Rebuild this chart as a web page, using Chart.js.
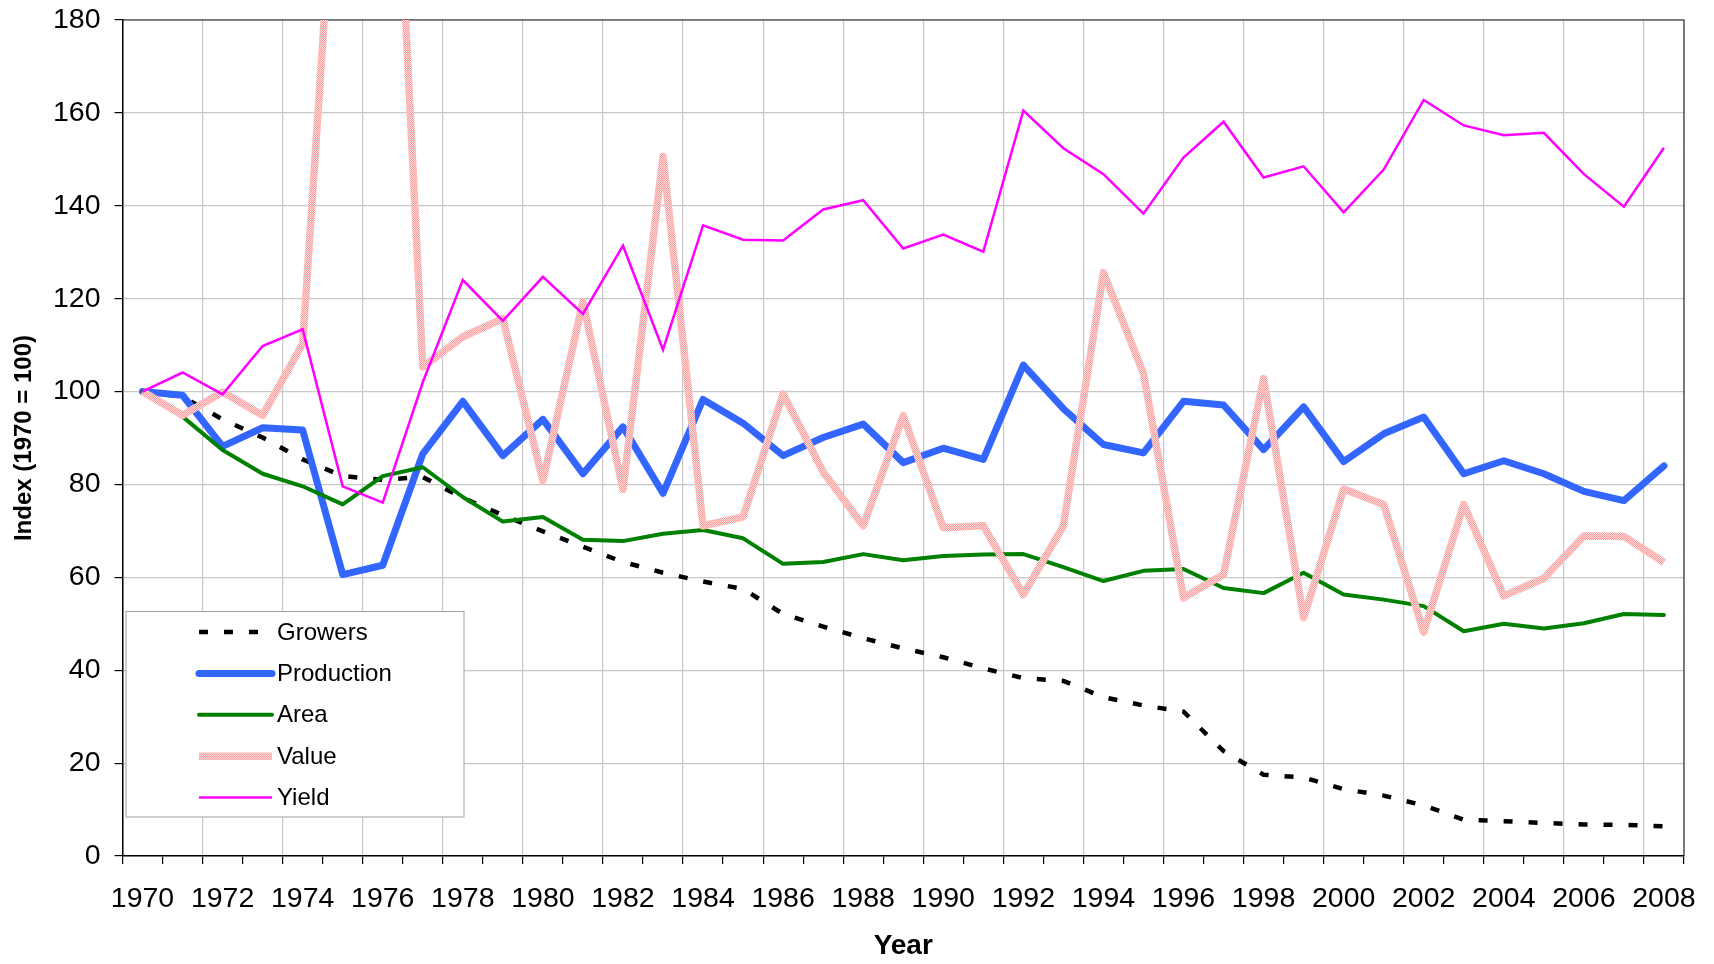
<!DOCTYPE html>
<html>
<head>
<meta charset="utf-8">
<title>Index (1970 = 100)</title>
<script src="https://cdn.jsdelivr.net/npm/chart.js@4.4.0/dist/chart.umd.min.js"></script>
<style>
  html, body { margin: 0; padding: 0; background: #fff; }
  canvas { display: block; }
</style>
</head>
<body>
<canvas id="chart" width="1714" height="964"></canvas>
<script>
// years on the category axis
const years = [];
for (let y = 1970; y <= 2008; y++) years.push(String(y));

// index values (1970 = 100)
const growers = [100, 98.9, 94, 90.1, 85.4, 81.8, 81, 81.6, 77.1, 73.4, 69.9, 66.6, 63.3, 61, 59.1, 57.5,
  52.1, 49.4, 46.9, 44.7, 42.8, 40.4, 38.3, 37.7, 34.2, 32.4, 31.1, 22.6, 17.5, 16.9, 14.4, 13, 10.9,
  7.8, 7.5, 7.1, 6.8, 6.7, 6.4];
const production = [100, 99.2, 88.2, 92.2, 91.7, 60.6, 62.6, 86.6, 97.9, 86.2, 94, 82.3, 92.4, 78.1, 98.3,
  93.2, 86.2, 90.1, 93, 84.7, 87.8, 85.4, 105.7, 96.3, 88.6, 86.8, 97.9, 97.1, 87.5, 96.7, 84.9, 90.9,
  94.5, 82.3, 85.1, 82.3, 78.5, 76.5, 84];
const area = [100, 94.6, 87.4, 82.3, 79.6, 75.7, 81.8, 83.7, 77.3, 72, 73, 68.1, 67.8, 69.4, 70.2, 68.4,
  62.9, 63.3, 65, 63.7, 64.6, 64.9, 65, 62.2, 59.2, 61.4, 61.8, 57.7, 56.6, 61, 56.3, 55.2, 53.8, 48.4,
  50, 49, 50.1, 52.1, 51.9];
const value = [100, 94.9, 99.9, 94.9, 110.3, 240, 280, 105.3, 111.8, 115.7, 80.8, 119.3, 78.9, 150.6,
  71.1, 73, 99.5, 82.7, 71.1, 94.8, 70.7, 71.1, 56.3, 71.1, 125.6, 103.9, 55.6, 60.6, 102.8, 51.3, 79,
  75.7, 48.2, 75.7, 56, 59.8, 68.9, 68.8, 63.2];
const yieldIdx = [100, 104.1, 99.4, 109.8, 113.4, 79.6, 76.1, 102, 124, 115.2, 124.7, 116.7, 131.4, 109,
  135.8, 132.7, 132.5, 139.2, 141.2, 130.8, 133.8, 130.1, 160.5, 152.4, 146.8, 138.3, 150.4, 158.1,
  146.1, 148.5, 138.6, 147.8, 162.8, 157.3, 155.2, 155.7, 146.8, 139.8, 152.5];

const yTicks = { min: 0, max: 180, step: 20 };

// checkered pink fill for the Value line
function pinkPattern() {
  const c = document.createElement('canvas');
  c.width = 2; c.height = 2;
  const g = c.getContext('2d');
  g.fillStyle = '#ffdcdc'; g.fillRect(0, 0, 2, 2);
  g.fillStyle = '#ff9a9a'; g.fillRect(0, 0, 1, 1); g.fillRect(1, 1, 1, 1);
  return g.createPattern(c, 'repeat');
}

Chart.defaults.font.family = "'Liberation Sans', Arial, sans-serif";
Chart.defaults.color = '#000';

const gridGray = '#c8c8c8';

// legend drawn as a box inside the plot, lower left
const boxLegend = {
  id: 'boxLegend',
  afterDatasetsDraw(chart) {
    const { ctx, chartArea } = chart;
    const bx = chartArea.left + 3.5, by = chartArea.bottom - 244.5;
    const bw = 338, bh = 205.5;
    ctx.save();
    ctx.fillStyle = '#fff';
    ctx.fillRect(bx, by, bw, bh);
    ctx.strokeStyle = '#a0a0a0';
    ctx.lineWidth = 1;
    ctx.strokeRect(bx, by, bw, bh);
    ctx.font = "24px 'Liberation Sans', Arial, sans-serif";
    ctx.textBaseline = 'middle';
    ctx.textAlign = 'left';
    chart.data.datasets.forEach((ds, i) => {
      const cy = by + 20.5 + i * 41.4;
      ctx.beginPath();
      ctx.strokeStyle = ds.borderColor;
      ctx.lineWidth = ds.borderWidth;
      ctx.lineCap = ds.borderCapStyle || 'butt';
      ctx.setLineDash(ds.borderDash || []);
      ctx.moveTo(bx + 73, cy);
      ctx.lineTo(bx + 146, cy);
      ctx.stroke();
      ctx.setLineDash([]);
      ctx.fillStyle = '#000';
      ctx.fillText(ds.label, bx + 151, cy + 1);
    });
    ctx.restore();
  }
};

// top and right frame lines of the plot area
const frame = {
  id: 'frame',
  beforeDatasetsDraw(chart) {
    const { ctx, chartArea: a } = chart;
    ctx.save();
    ctx.strokeStyle = '#222';
    ctx.lineWidth = 1.2;
    ctx.beginPath();
    ctx.moveTo(a.left, a.top);
    ctx.lineTo(a.right, a.top);
    ctx.lineTo(a.right, a.bottom);
    ctx.stroke();
    ctx.restore();
  }
};

new Chart(document.getElementById('chart'), {
  type: 'line',
  data: {
    labels: years,
    datasets: [
      { label: 'Growers', data: growers, borderColor: '#000', borderWidth: 4.5, borderDash: [9, 16],
        borderCapStyle: 'butt', order: 5 },
      { label: 'Production', data: production, borderColor: '#3366ff', borderWidth: 7,
        borderCapStyle: 'round', borderJoinStyle: 'round', order: 4 },
      { label: 'Area', data: area, borderColor: '#008000', borderWidth: 4,
        borderCapStyle: 'round', borderJoinStyle: 'round', order: 3 },
      { label: 'Value', data: value, borderColor: pinkPattern(), borderWidth: 7.5,
        borderJoinStyle: 'round', clip: 0, order: 2 },
      { label: 'Yield', data: yieldIdx, borderColor: '#ff00ff', borderWidth: 2.5, order: 1 }
    ]
  },
  options: {
    responsive: false,
    animation: false,
    layout: { padding: { left: 0, right: 27.5, top: 20, bottom: 0 } },
    elements: { point: { radius: 0, hoverRadius: 0 }, line: { tension: 0 } },
    plugins: { legend: { display: false }, tooltip: { enabled: false } },
    events: [],
    scales: {
      x: {
        type: 'category',
        offset: true,
        afterFit(scale) { scale.height = 108; },
        grid: {
          offset: true,
          color: ctx => (ctx.index !== undefined && ctx.index % 2 === 0 ? gridGray : 'transparent'),
          lineWidth: 1.2,
          tickColor: '#000',
          tickLength: 8
        },
        border: { color: '#000', width: 1.5 },
        ticks: {
          autoSkip: false,
          maxRotation: 0,
          padding: 18,
          font: { size: 28.5 },
          callback(v, i) { return i % 2 === 0 ? this.getLabelForValue(v) : ''; }
        },
        title: { display: true, text: 'Year', font: { size: 28, weight: 'bold' }, padding: { top: 0, bottom: 1 } }
      },
      y: {
        min: yTicks.min,
        max: yTicks.max,
        afterFit(scale) {
          scale.width = 122.5;
          scale.paddingTop = 10;
          scale.paddingBottom = 10;
        },
        grid: { color: gridGray, lineWidth: 1.2, tickColor: '#000', tickLength: 8 },
        border: { color: '#000', width: 1.5 },
        ticks: { stepSize: yTicks.step, padding: 14, font: { size: 28.5 } },
        title: { display: true, text: 'Index (1970 = 100)', font: { size: 24, weight: 'bold' }, padding: { top: 10, bottom: 0 } }
      }
    }
  },
  plugins: [frame, boxLegend]
});
</script>
</body>
</html>
